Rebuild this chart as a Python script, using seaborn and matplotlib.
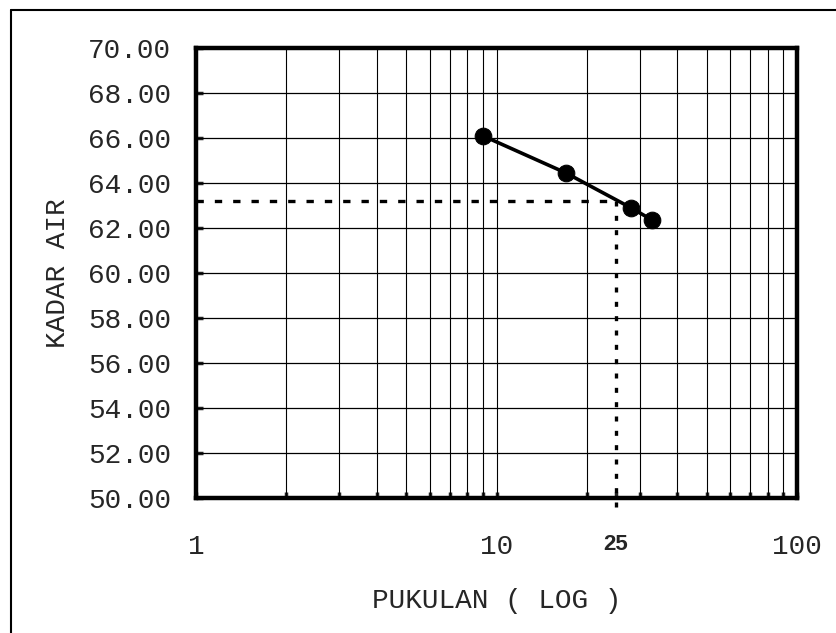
import numpy as np
import pandas as pd
import matplotlib
matplotlib.use("Agg")
import matplotlib.pyplot as plt
import matplotlib.ticker as mticker
from matplotlib.lines import Line2D
import seaborn as sns

# data
pukulan = [9, 17, 28, 33]
kadar_air = [66.1, 64.45, 62.9, 62.35]
ll_pukulan = 25
ll_kadar = 63.2

y_ticks = [50, 52, 54, 56, 58, 60, 62, 64, 66, 68, 70]
x_ticks = [1, 10, 25, 100]
x_tick_labels = ["1", "10", "25", "100"]

df = pd.DataFrame({"Pukulan": pukulan, "Kadar Air": kadar_air})

sns.set_style("white")
plt.rcParams["font.family"] = ["Liberation Mono", "DejaVu Sans Mono"]

fig = plt.figure(figsize=(8.37, 6.33), dpi=100)
ax = fig.add_axes([196 / 837, 1 - 498 / 633, 601 / 837, 450 / 633])

# outer frame (top and left edges only)
fig.lines.append(Line2D([11 / 837, 1.0], [1 - 10 / 633, 1 - 10 / 633],
                        transform=fig.transFigure, color="black", linewidth=1.5))
fig.lines.append(Line2D([11 / 837, 11 / 837], [0, 1 - 10 / 633],
                        transform=fig.transFigure, color="black", linewidth=1.5))

ax.set_xscale("log")
ax.set_xlim(1, 100)
ax.set_ylim(50, 70)

# grid
ax.xaxis.set_minor_locator(mticker.LogLocator(base=10, subs=np.arange(2, 10)))
ax.xaxis.set_minor_formatter(mticker.NullFormatter())
for xv in list(range(2, 10)) + [10] + list(range(20, 100, 10)):
    ax.axvline(xv, color="black", linewidth=0.8, zorder=1)
for yv in y_ticks[1:-1]:
    ax.axhline(yv, color="black", linewidth=0.9, zorder=1)

# liquid limit guides
ax.plot([1, ll_pukulan], [ll_kadar, ll_kadar], color="black", linewidth=2.4,
        linestyle=(0, (2.2, 3.3)), zorder=2)
ax.plot([ll_pukulan, ll_pukulan], [ll_kadar, 49.6], color="black", linewidth=2.4,
        linestyle=(0, (1.5, 2.8)), zorder=2, clip_on=False)

sns.lineplot(data=df, x="Pukulan", y="Kadar Air", ax=ax, color="black",
             linewidth=2.6, marker="o", markersize=12, markeredgecolor="black",
             zorder=3)

ax.set_yticks(y_ticks)
ax.set_yticklabels([f"{v:.2f}" for v in y_ticks])
ax.set_xticks(x_ticks)
ax.set_xticklabels(x_tick_labels)
ax.tick_params(axis="y", direction="in", length=5, width=2.5, pad=18,
               labelsize=20, left=True)
ax.tick_params(axis="x", which="both", direction="in", length=4, width=2.5,
               pad=26, labelsize=20, bottom=True)
for lab in ax.get_xticklabels():
    if lab.get_text() == "25":
        lab.set_fontfamily(["Liberation Sans", "DejaVu Sans"])
        lab.set_fontweight("bold")
        lab.set_fontsize(16)

for sp in ax.spines.values():
    sp.set_visible(True)
    sp.set_color("black")
    sp.set_linewidth(3.2)

ax.set_xlabel("PUKULAN ( LOG )", fontsize=20, labelpad=20)
ax.set_ylabel("KADAR AIR", fontsize=20, labelpad=12)

fig.savefig("out.png", dpi=100)
